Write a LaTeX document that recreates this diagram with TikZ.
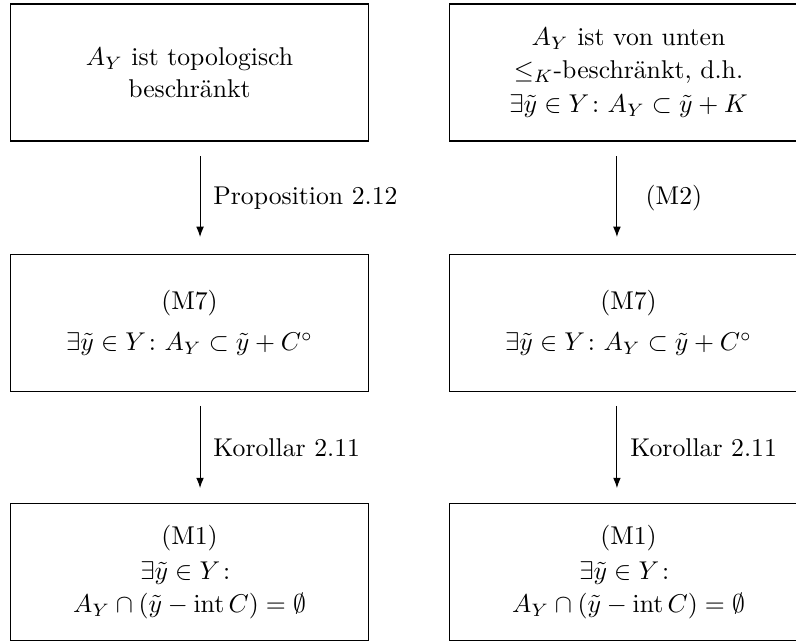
\documentclass[tikz,border=0pt]{standalone}
\usepackage{amsmath,amssymb}
\usetikzlibrary{arrows.meta,positioning}

\tikzset{
  stmt/.style={draw, thin, align=center, inner sep=0pt,
    minimum width=138.9pt, minimum height=53.3pt},
  impl/.style={-{Latex[length=4pt,width=3pt]}, thin},
  why/.style={right, inner sep=5pt}
}

\begin{document}
\begin{tikzpicture}[x=0.389pt, y=-0.389pt]
  \useasboundingbox (0,0) rectangle (796,642);

  % left column
  \node[stmt] (topl) at (189.5,72.5) {$A_Y$ ist topologisch\\[0.5pt]beschränkt};
  \node[stmt] (midl) at (189.5,323) {(M7)\\[4pt]$\exists\tilde y\in Y\colon A_Y\subset\tilde y+C^\circ$};
  \node[stmt] (botl) at (189.5,572) {(M1)\\[1.5pt]$\exists\tilde y\in Y\colon$\\[1pt]$A_Y\cap(\tilde y-\operatorname{int}C)=\emptyset$};

  % right column
  \node[stmt] (topr) at (628.5,72.5) {$A_Y$ ist von unten\\[1pt]$\leq_K$-beschränkt, d.h.\\[1pt]$\exists\tilde y\in Y\colon A_Y\subset\tilde y+K$};
  \node[stmt] (midr) at (628.5,323) {(M7)\\[4pt]$\exists\tilde y\in Y\colon A_Y\subset\tilde y+C^\circ$};
  \node[stmt] (botr) at (628.5,572) {(M1)\\[1.5pt]$\exists\tilde y\in Y\colon$\\[1pt]$A_Y\cap(\tilde y-\operatorname{int}C)=\emptyset$};

  % implications
  \draw[impl, shorten <=5.8pt, shorten >=6.6pt] ([xshift=4.1pt]topl.south) -- node[why] {Proposition 2.12} ([xshift=4.1pt]midl.north);
  \draw[impl, shorten <=5.4pt, shorten >=5.8pt] ([xshift=4.1pt]midl.south) -- node[why] {Korollar 2.11} ([xshift=4.1pt]botl.north);
  \draw[impl, shorten <=5.8pt, shorten >=6.6pt] ([xshift=-4.5pt]topr.south) -- node[why, xshift=6pt] {(M2)} ([xshift=-4.5pt]midr.north);
  \draw[impl, shorten <=5.4pt, shorten >=5.8pt] ([xshift=-4.5pt]midr.south) -- node[why] {Korollar 2.11} ([xshift=-4.5pt]botr.north);
\end{tikzpicture}
\end{document}
